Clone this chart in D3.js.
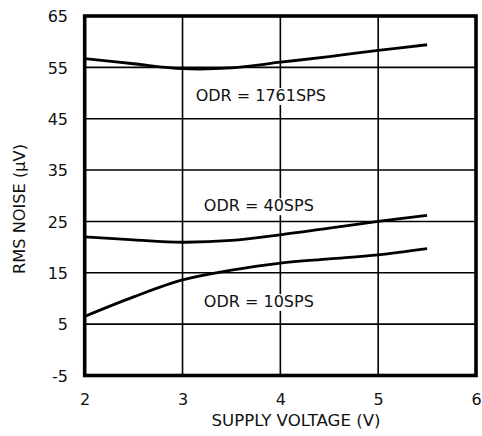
<!DOCTYPE html>
<html>
<head>
<meta charset="utf-8">
<script src="https://cdn.jsdelivr.net/npm/d3@7"></script>
<style>
  html, body { margin: 0; padding: 0; background: #fff; }
  svg { display: block; }
  text { font-family: "DejaVu Sans", sans-serif; fill: #111; }
</style>
</head>
<body>
<svg id="chart" width="482" height="436"></svg>
<script>
// ---- data ----
const voltages = [2, 2.5, 3, 3.5, 4, 4.5, 5, 5.5];
const noise1761 = [56.7, 55.7, 54.75, 54.9, 56.0, 57.1, 58.3, 59.4];
const noise40   = [22.0, 21.4, 20.95, 21.3, 22.4, 23.7, 25.0, 26.2];
const noise10   = [6.5, 10.3, 13.6, 15.5, 16.9, 17.7, 18.5, 19.7];
const seriesLabels = ["ODR = 1761SPS", "ODR = 40SPS", "ODR = 10SPS"];
const labelPos = [[3.8, 48.45], [3.78, 27.0], [3.78, 8.35]]; // [voltage, value] baseline anchor of each label
const xTicks = [2, 3, 4, 5, 6];
const yTicks = [-5, 5, 15, 25, 35, 45, 55, 65];
const xTitle = "SUPPLY VOLTAGE (V)";
const yTitle = "RMS NOISE  (\u00B5V)";

// ---- layout ----
const svg = d3.select("#chart");
const x = d3.scaleLinear().domain([2, 6]).range([84.7, 476]);
const y = d3.scaleLinear().domain([-5, 65]).range([375.5, 16]);

// grid
const g = svg.append("g");
g.selectAll("line.vg").data(xTicks.slice(1, -1)).join("line")
  .attr("x1", d => x(d)).attr("x2", d => x(d))
  .attr("y1", y(65)).attr("y2", y(-5))
  .attr("stroke", "#000").attr("stroke-width", 1.6);
g.selectAll("line.hg").data(yTicks.slice(1, -1)).join("line")
  .attr("y1", d => y(d)).attr("y2", d => y(d))
  .attr("x1", x(2)).attr("x2", x(6))
  .attr("stroke", "#000").attr("stroke-width", 1.6);

// series lines
const allSeries = [noise1761, noise40, noise10];
const line = d3.line()
  .x((d, i) => x(voltages[i]))
  .y(d => y(d))
  .curve(d3.curveCatmullRom.alpha(0.5));
svg.selectAll("path.series").data(allSeries).join("path")
  .attr("class", "series")
  .attr("d", d => line(d))
  .attr("fill", "none")
  .attr("stroke", "#000")
  .attr("stroke-width", 2.8);

// labels with white background
seriesLabels.forEach((t, i) => {
  const lg = svg.append("g");
  const txt = lg.append("text")
    .attr("x", x(labelPos[i][0]))
    .attr("y", y(labelPos[i][1]))
    .attr("text-anchor", "middle")
    .attr("font-size", 16)
    .text(t);
  const bb = txt.node().getBBox();
  lg.insert("rect", "text")
    .attr("x", bb.x - 1).attr("y", bb.y + 2)
    .attr("width", bb.width + 2).attr("height", bb.height - 2)
    .attr("fill", "#fff");
});

// frame
svg.append("rect")
  .attr("x", x(2)).attr("y", y(65))
  .attr("width", x(6) - x(2)).attr("height", y(-5) - y(65))
  .attr("fill", "none").attr("stroke", "#000").attr("stroke-width", 3.6);

// axes (tick labels only)
const xAxis = d3.axisBottom(x).tickValues(xTicks).tickSize(0).tickPadding(0).tickFormat(d => String(d));
const xa = svg.append("g").attr("transform", `translate(0,${y(-5)})`).call(xAxis);
xa.select(".domain").remove();
xa.selectAll("text").attr("font-size", 16).attr("font-family", "DejaVu Sans").attr("fill", "#111")
  .attr("dy", null).attr("y", 29.5);

const yAxis = d3.axisLeft(y).tickValues(yTicks).tickSize(0).tickPadding(0).tickFormat(d => String(d));
const ya = svg.append("g").attr("transform", `translate(68,0)`).call(yAxis);
ya.select(".domain").remove();
ya.selectAll("text").attr("font-size", 16).attr("font-family", "DejaVu Sans").attr("fill", "#111")
  .attr("dy", "0.36em");

// titles
svg.append("text")
  .attr("x", 296).attr("y", 426)
  .attr("text-anchor", "middle").attr("font-size", 16.6)
  .text(xTitle);
svg.append("text")
  .attr("transform", "translate(25,209) rotate(-90)")
  .attr("text-anchor", "middle").attr("font-size", 16.2)
  .text(yTitle);
</script>
</body>
</html>
